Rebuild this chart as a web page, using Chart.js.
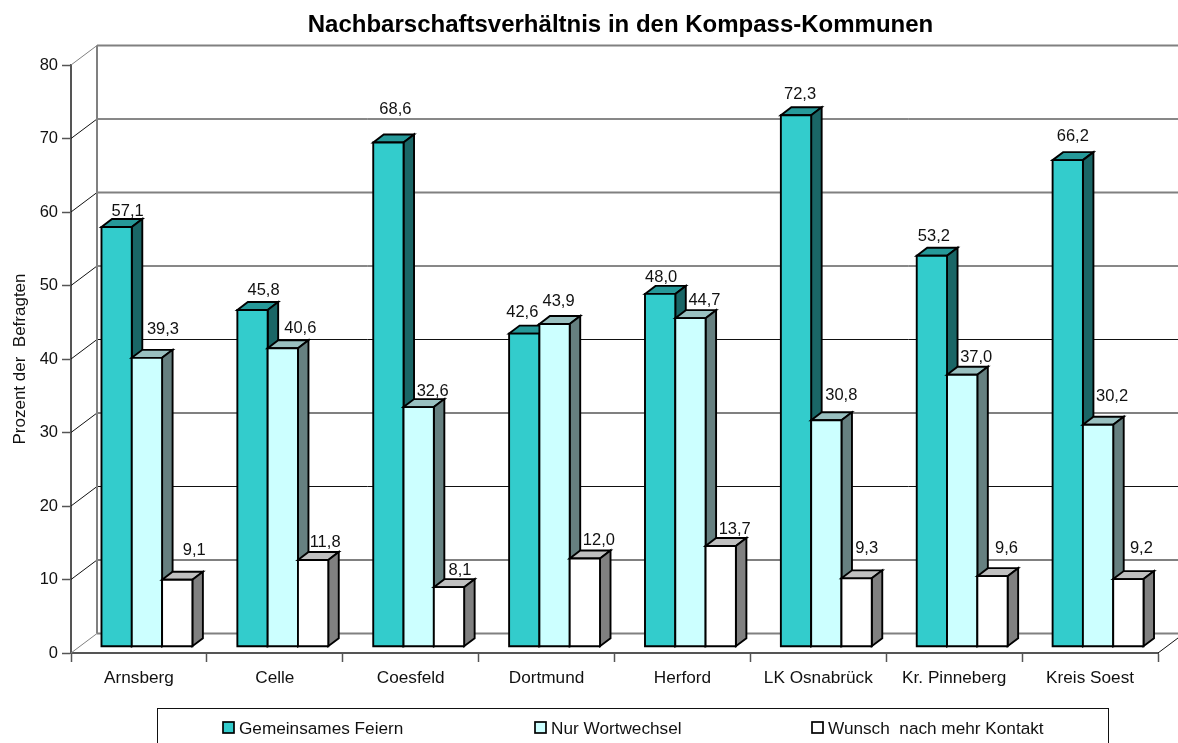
<!DOCTYPE html>
<html>
<head>
<meta charset="utf-8">
<title>Nachbarschaftsverhältnis</title>
<script src="https://cdn.jsdelivr.net/npm/chart.js@4"></script>
<style>
  html, body { margin: 0; padding: 0; background: #fff; overflow: hidden; }
  canvas { display: block; }
</style>
</head>
<body>
<canvas id="chart" width="1178" height="743"></canvas>
<script>
// Data
const categories = ['Arnsberg', 'Celle', 'Coesfeld', 'Dortmund', 'Herford', 'LK Osnabrück', 'Kr. Pinneberg', 'Kreis Soest'];
const seriesNames = ['Gemeinsames Feiern', 'Nur Wortwechsel', 'Wunsch  nach mehr Kontakt'];
const feiern = [57.1, 45.8, 68.6, 42.6, 48.0, 72.3, 53.2, 66.2];
const wortwechsel = [39.3, 40.6, 32.6, 43.9, 44.7, 30.8, 37.0, 30.2];
const kontakt = [9.1, 11.8, 8.1, 12.0, 13.7, 9.3, 9.6, 9.2];

// Colours per series: front, top, side
const frontColors = ['#33cccc', '#ccffff', '#ffffff'];
const topColors = ['#269999', '#99c0c0', '#c0c0c0'];
const sideColors = ['#1a6666', '#668080', '#808080'];

// The data labels were placed by hand in the original, so each has its own nudge
const labelDx = [
  [11, 11, 7, -2, 1, 4, 2, 5],
  [16, 17.5, 14, 4, 14, 15, 14, 14],
  [17, 12, 11, 14, 14, 10, 14, 13]
];
const labelDy = [
  [-16, -20, -33, -21, -16, -21, -19, -24],
  [-28, -20, -16, -23, -18, -25, -17, -28],
  [-29, -18, -17, -18, -17, -30, -28, -31]
];

// Back wall lines come out alternately thin/dark and thick/grey
const darkGridValues = [70, 50, 40, 20];

const FONT = '"Liberation Sans", Arial, sans-serif';
const WALL = { dx: 26, dy: -19.5 };     // depth of the floor
const BAR_OFFSET = { dx: 8, dy: -6.3 }; // front of the bars on the floor
const BAR_DEPTH = { dx: 10.5, dy: -8 };

function poly(ctx, pts, fill) {
  ctx.beginPath();
  pts.forEach((p, i) => i ? ctx.lineTo(p[0], p[1]) : ctx.moveTo(p[0], p[1]));
  ctx.closePath();
  ctx.fillStyle = fill;
  ctx.fill();
  ctx.stroke();
}

const wall3d = {
  id: 'wall3d',
  afterLayout(chart) {
    // title sits a bit right of the middle of the page
    chart.titleBlock.left = 83;
  },
  beforeDatasetsDraw(chart) {
    const ctx = chart.ctx;
    const y = chart.scales.y;
    const { left, right } = chart.chartArea;
    ctx.save();

    y.ticks.forEach(t => {
      const py = y.getPixelForValue(t.value);
      const dark = darkGridValues.includes(t.value);
      ctx.strokeStyle = dark ? '#111' : '#808080';
      ctx.lineWidth = dark ? 1 : 2;
      ctx.beginPath();
      ctx.moveTo(left + WALL.dx, py + WALL.dy);
      ctx.lineTo(right + WALL.dx, py + WALL.dy);
      ctx.stroke();
      ctx.lineWidth = 1;
      ctx.strokeStyle = t.value === 80 || t.value === 0 ? '#808080' : '#111';
      ctx.beginPath();
      ctx.moveTo(left, py);
      ctx.lineTo(left + WALL.dx, py + WALL.dy);
      ctx.stroke();
    });

    // back wall edge and right floor edge
    ctx.strokeStyle = '#808080';
    ctx.lineWidth = 2;
    ctx.beginPath();
    ctx.moveTo(left + WALL.dx, y.getPixelForValue(80) + WALL.dy);
    ctx.lineTo(left + WALL.dx, y.getPixelForValue(0) + WALL.dy);
    ctx.stroke();
    ctx.strokeStyle = '#111';
    ctx.lineWidth = 1;
    ctx.beginPath();
    ctx.moveTo(right, y.getPixelForValue(0));
    ctx.lineTo(right + WALL.dx, y.getPixelForValue(0) + WALL.dy);
    ctx.stroke();

    // bars, left to right so that each one covers its neighbour's side
    ctx.strokeStyle = '#000';
    ctx.lineWidth = 1.9;
    ctx.lineJoin = 'miter';
    categories.forEach((c, i) => {
      chart.data.datasets.forEach((ds, s) => {
        const bar = chart.getDatasetMeta(s).data[i];
        const x0 = bar.x - bar.width / 2 + BAR_OFFSET.dx;
        const x1 = bar.x + bar.width / 2 + BAR_OFFSET.dx;
        const yt = bar.y + BAR_OFFSET.dy;
        const yb = bar.base + BAR_OFFSET.dy;
        const ddx = BAR_DEPTH.dx, ddy = BAR_DEPTH.dy;
        poly(ctx, [[x0, yt], [x0 + ddx, yt + ddy], [x1 + ddx, yt + ddy], [x1, yt]], topColors[s]);
        poly(ctx, [[x1, yt], [x1 + ddx, yt + ddy], [x1 + ddx, yb + ddy], [x1, yb]], sideColors[s]);
        poly(ctx, [[x0, yt], [x1, yt], [x1, yb], [x0, yb]], frontColors[s]);
      });
    });

    // data labels
    ctx.fillStyle = '#111';
    ctx.font = '16.5px ' + FONT;
    ctx.textAlign = 'center';
    ctx.textBaseline = 'middle';
    categories.forEach((c, i) => {
      chart.data.datasets.forEach((ds, s) => {
        const bar = chart.getDatasetMeta(s).data[i];
        const txt = ds.data[i].toFixed(1).replace('.', ',');
        ctx.fillText(txt, bar.x + BAR_OFFSET.dx + labelDx[s][i], bar.y + BAR_OFFSET.dy + labelDy[s][i]);
      });
    });
    ctx.restore();
    return false; // the plain 2d bars are not drawn
  },
  afterDraw(chart) {
    const ctx = chart.ctx;
    const boxX = [223, 535, 812];
    ctx.save();
    ctx.strokeStyle = '#111';
    ctx.lineWidth = 1;
    ctx.strokeRect(157.5, 708.5, 951, 60);
    ctx.font = '17.2px ' + FONT;
    ctx.textAlign = 'left';
    ctx.textBaseline = 'middle';
    chart.data.datasets.forEach((ds, s) => {
      ctx.fillStyle = frontColors[s];
      ctx.lineWidth = 1.7;
      ctx.fillRect(boxX[s], 722, 11, 11);
      ctx.strokeStyle = '#000';
      ctx.strokeRect(boxX[s], 722, 11, 11);
      ctx.fillStyle = '#111';
      ctx.fillText(ds.label, boxX[s] + 16, 729.5);
    });
    ctx.restore();
  }
};

new Chart(document.getElementById('chart'), {
  type: 'bar',
  data: {
    labels: categories,
    datasets: [
      { label: seriesNames[0], data: feiern, backgroundColor: frontColors[0] },
      { label: seriesNames[1], data: wortwechsel, backgroundColor: frontColors[1] },
      { label: seriesNames[2], data: kontakt, backgroundColor: frontColors[2] }
    ]
  },
  options: {
    responsive: false,
    animation: false,
    layout: { padding: { right: 20 } },
    datasets: { bar: { barPercentage: 1, categoryPercentage: 0.669 } },
    plugins: {
      legend: { display: false },
      tooltip: { enabled: false },
      title: {
        display: true,
        text: 'Nachbarschaftsverhältnis in den Kompass-Kommunen',
        color: '#000',
        font: { family: FONT, size: 24, weight: 'bold', lineHeight: 1.2 },
        padding: { top: 11, bottom: 25.2 }
      }
    },
    scales: {
      x: {
        afterFit(scale) { scale.height = 90; },
        border: { color: '#555', width: 2 },
        grid: { drawOnChartArea: false, color: '#555', tickLength: 9, tickWidth: 1.5 },
        ticks: { color: '#111', padding: 6, maxRotation: 0, font: { family: FONT, size: 17.2 } }
      },
      y: {
        min: 0,
        max: 80,
        afterFit(scale) { scale.width = 71; },
        border: { color: '#555', width: 2 },
        grid: { drawOnChartArea: false, color: '#555', tickLength: 9, tickWidth: 1.5 },
        ticks: { stepSize: 10, color: '#111', padding: 4, font: { family: FONT, size: 16.5 } },
        title: {
          display: true,
          text: 'Prozent der  Befragten',
          color: '#111',
          font: { family: FONT, size: 17 },
          padding: { top: 10.5, bottom: 0 }
        }
      }
    }
  },
  plugins: [wall3d]
});
</script>
</body>
</html>
